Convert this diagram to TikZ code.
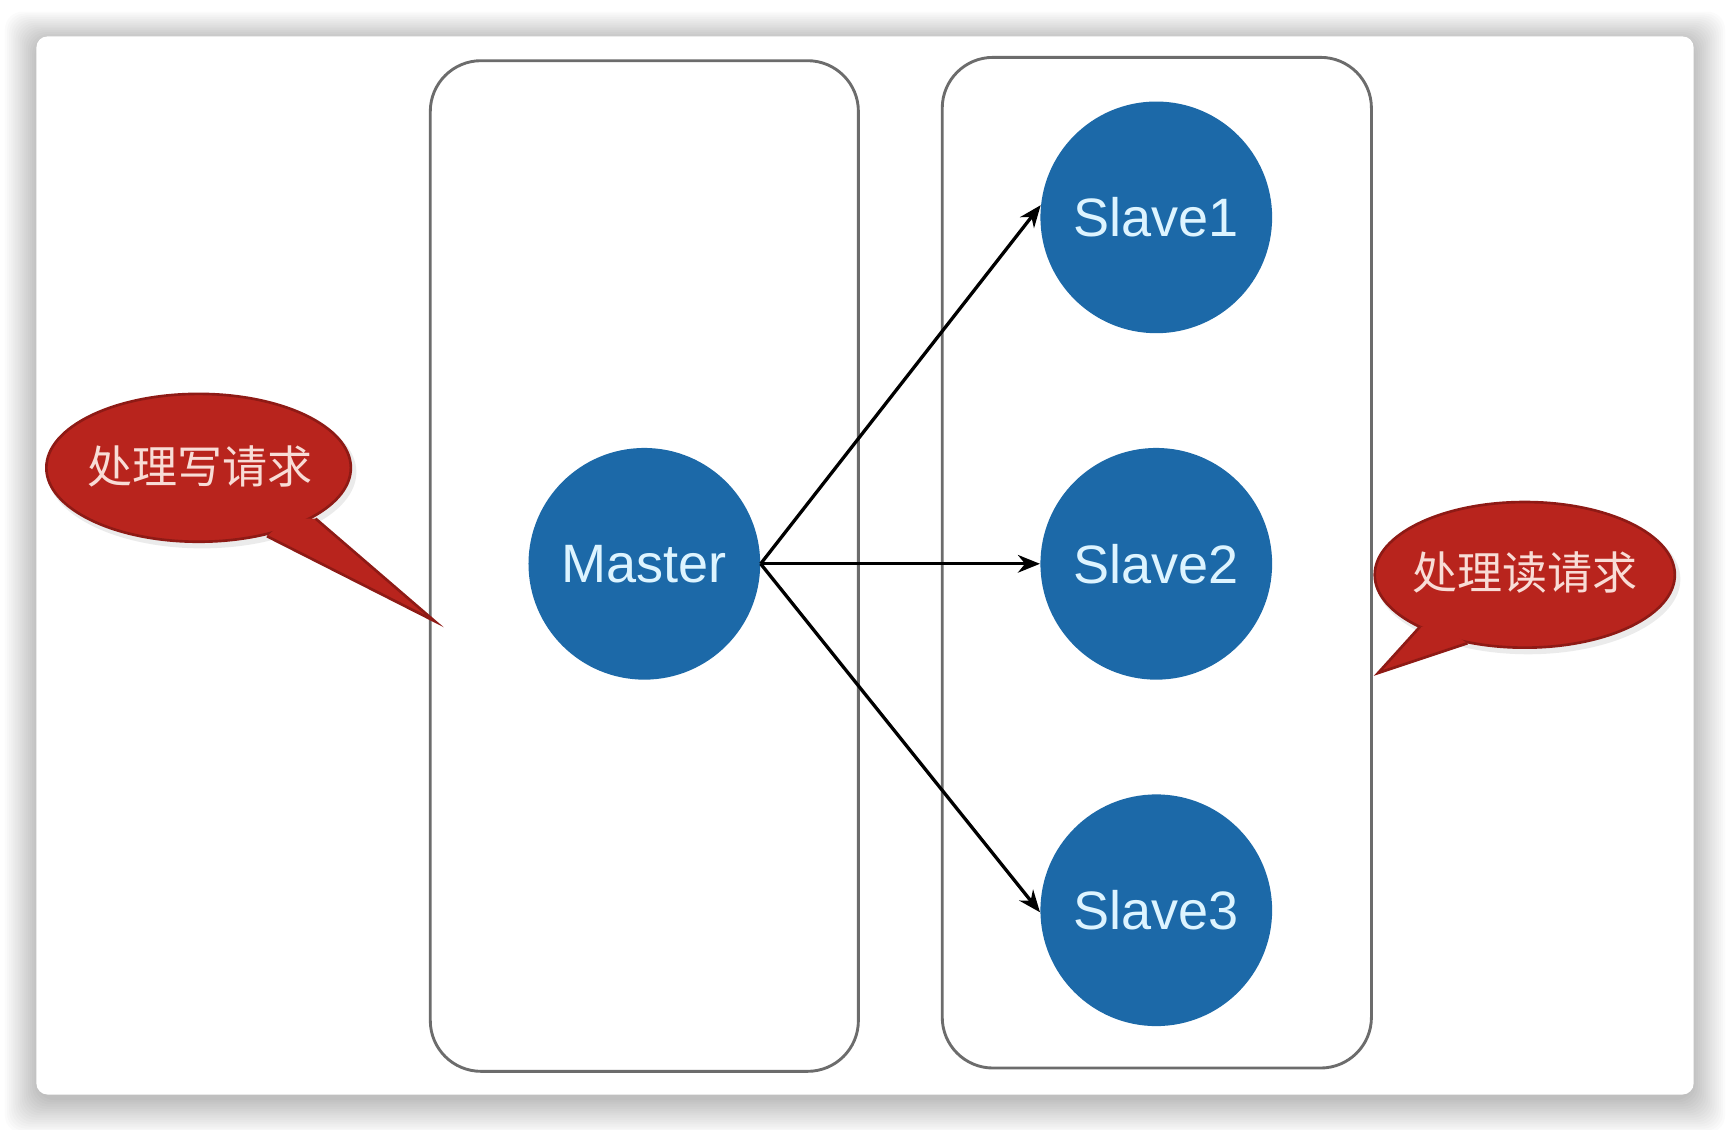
\documentclass[tikz,border=0pt]{standalone}
\usepackage{fontspec}
\setmainfont{Liberation Sans}
\newfontfamily\cjk{Noto Sans CJK SC}
\usetikzlibrary{arrows.meta}
\definecolor{nodeblue}{HTML}{1C69A8}
\definecolor{nodetext}{HTML}{DDF4FF}
\definecolor{callred}{HTML}{B8241D}
\definecolor{callrim}{HTML}{8E1A15}
\definecolor{calltext}{HTML}{F8DCD6}
\definecolor{boxgray}{HTML}{6C6C6C}
\tikzset{
  server/.style={circle, fill=nodeblue, minimum size=105pt, inner sep=0pt,
    text=nodetext, font=\fontsize{24.5}{26}\selectfont},
  panel/.style={draw=boxgray, line width=1.3pt, rounded corners=23pt},
  link/.style={line width=1.5pt, black, -{Stealth[length=10pt,width=8pt]}},
  calloutfill/.style={fill=callred},
  calloutrim/.style={draw=callrim, line width=1.2pt},
  callouttext/.style={text=calltext, font=\cjk\fontsize{20.4}{22}\selectfont, inner sep=0pt},
}
\begin{document}
\begin{tikzpicture}[x=0.5pt, y=-0.5pt]
\useasboundingbox (0,0) rectangle (1568,1024);
\fill[white] (0,0) rectangle (1568,1024);
% card shadow
\foreach \i in {0,...,15}{
  \fill[black, opacity=0.014, rounded corners=8pt]
    ({33-1.9*\i},{36-1.7*\i}) rectangle ({1535+1.9*\i},{997+2.0*\i});
}
\fill[white, rounded corners=5pt] (33,33) rectangle (1535,992);
% panels
\draw[panel] (390,55) rectangle (778,971);
\draw[panel] (854,52) rectangle (1243,968);
% nodes
\node[server] (M) at (584,511) {Master};
\node[server] (S1) at (1048,197) {Slave1};
\node[server] (S2) at (1048,511) {Slave2};
\node[server] (S3) at (1048,825) {Slave3};
% links
\draw[link] (M.east) -- (S1.174);
\draw[link] (M.east) -- (S2.west);
\draw[link] (M.east) -- (S3.181);
% left callout
\fill[black, opacity=0.08] (183,428) ellipse [x radius=70pt, y radius=34.5pt];
\path[calloutfill, calloutrim] (180,424) ellipse [x radius=69pt, y radius=33.5pt];
\fill[callred] (242,486) -- (394,563) -- (286,470) -- (260,470) -- cycle;
\draw[callrim, line width=1.2pt] (242,486) -- (394,563) -- (286,470);
\node[callouttext] (W) at (181,423) {处理写请求};
% right callout
\fill[black, opacity=0.08] (1385,525) ellipse [x radius=69pt, y radius=34pt];
\path[calloutfill, calloutrim] (1382,521) ellipse [x radius=68pt, y radius=33pt];
\fill[callred] (1287,568) -- (1249,610) -- (1330,583) -- (1310,570) -- cycle;
\draw[callrim, line width=1.2pt] (1287,568) -- (1249,610) -- (1330,583);
\node[callouttext] (R) at (1382,519) {处理读请求};
\end{tikzpicture}
\end{document}
